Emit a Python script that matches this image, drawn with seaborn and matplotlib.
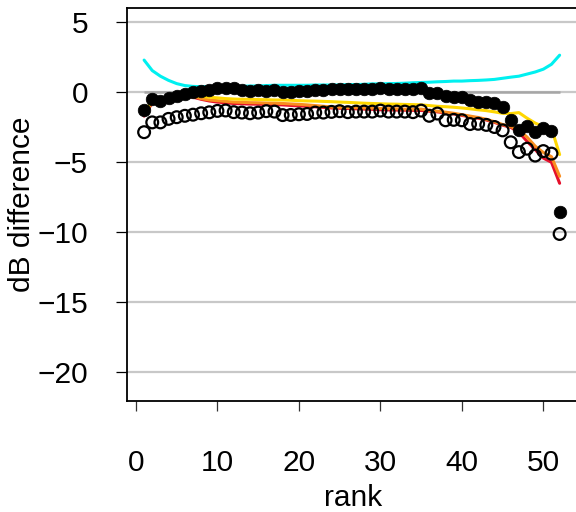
import numpy as np
import pandas as pd
import matplotlib
matplotlib.use("Agg")
import matplotlib.pyplot as plt
import seaborn as sns

rank = np.arange(1, 53)

filled = [-1.25, -0.5, -0.6, -0.43, -0.28, -0.1, 0.03, 0.1, 0.15, 0.28,
          0.33, 0.3, 0.15, 0.1, 0.15, 0.12, 0.15, 0.05, 0.05, 0.1,
          0.1, 0.15, 0.18, 0.22, 0.22, 0.22, 0.2, 0.22, 0.22, 0.33,
          0.25, 0.22, 0.2, 0.22, 0.28, -0.05, -0.05, -0.3, -0.33, -0.36,
          -0.58, -0.66, -0.7, -0.8, -1.08, -1.98, -2.7, -2.43, -2.84, -2.57,
          -2.75, -8.53]

open_pts = [-2.85, -2.15, -2.15, -1.9, -1.78, -1.68, -1.6, -1.5, -1.43, -1.33,
            -1.3, -1.42, -1.45, -1.5, -1.45, -1.35, -1.38, -1.63, -1.62, -1.57,
            -1.55, -1.45, -1.45, -1.4, -1.35, -1.42, -1.38, -1.38, -1.38, -1.31,
            -1.38, -1.38, -1.38, -1.42, -1.31, -1.68, -1.52, -2.0, -1.97, -2.0,
            -2.27, -2.25, -2.33, -2.48, -2.72, -3.57, -4.27, -4.03, -4.52, -4.2,
            -4.38, -10.12]

cyan = [2.3, 1.55, 1.15, 0.85, 0.62, 0.48, 0.42, 0.4, 0.4, 0.4,
        0.42, 0.42, 0.42, 0.45, 0.45, 0.48, 0.5, 0.5, 0.5, 0.5,
        0.5, 0.52, 0.52, 0.52, 0.52, 0.55, 0.55, 0.57, 0.6, 0.6,
        0.62, 0.63, 0.65, 0.68, 0.7, 0.72, 0.75, 0.77, 0.8, 0.8,
        0.83, 0.85, 0.88, 0.92, 1.0, 1.08, 1.15, 1.3, 1.45, 1.65,
        2.0, 2.65]

yellow = [-1.45, -0.6, -0.55, -0.45, -0.3, -0.15, -0.2, -0.3, -0.35, -0.4,
          -0.45, -0.48, -0.5, -0.5, -0.52, -0.53, -0.55, -0.55, -0.57, -0.6,
          -0.62, -0.63, -0.65, -0.67, -0.7, -0.72, -0.75, -0.78, -0.8, -0.82,
          -0.84, -0.85, -0.87, -0.88, -0.9, -0.95, -1.0, -1.03, -1.07, -1.12,
          -1.18, -1.25, -1.31, -1.4, -1.5, -1.52, -1.45, -1.85, -2.2, -2.45,
          -2.57, -4.45]

orange = [-1.6, -0.7, -0.65, -0.5, -0.35, -0.2, -0.3, -0.45, -0.55, -0.6,
          -0.65, -0.7, -0.72, -0.74, -0.75, -0.77, -0.78, -0.8, -0.83, -0.86,
          -0.9, -0.95, -1.0, -1.05, -1.07, -1.09, -1.1, -1.12, -1.13, -1.15,
          -1.17, -1.18, -1.2, -1.2, -1.2, -1.28, -1.35, -1.42, -1.5, -1.6,
          -1.7, -1.8, -1.93, -2.1, -2.3, -2.45, -2.69, -3.2, -3.85, -4.3,
          -4.6, -6.0]

red = [-1.7, -0.75, -0.7, -0.55, -0.4, -0.25, -0.35, -0.5, -0.62, -0.7,
       -0.75, -0.8, -0.82, -0.84, -0.85, -0.87, -0.88, -0.9, -0.94, -0.97,
       -1.0, -1.04, -1.08, -1.12, -1.14, -1.16, -1.18, -1.2, -1.22, -1.25,
       -1.26, -1.27, -1.28, -1.29, -1.3, -1.35, -1.4, -1.47, -1.55, -1.65,
       -1.75, -1.85, -1.98, -2.15, -2.35, -2.5, -2.85, -3.5, -4.1, -4.7,
       -5.0, -6.5]

line_series = {"red": red, "orange": orange, "yellow": yellow, "cyan": cyan}
line_colors = {"red": "#E5102B", "orange": "#F98E1F", "yellow": "#FFD700", "cyan": "#00F0F0"}

yticks = [5, 0, -5, -10, -15, -20]
xticks = [0, 10, 20, 30, 40, 50]

lines_df = pd.concat(
    [pd.DataFrame({"rank": rank, "value": v, "series": k}) for k, v in line_series.items()],
    ignore_index=True)
pts_df = pd.DataFrame({"rank": rank, "filled": filled, "open": open_pts})

sns.set_style("white")
plt.rcParams["font.family"] = ["Liberation Sans", "DejaVu Sans"]
plt.rcParams["text.color"] = "black"
plt.rcParams["axes.labelcolor"] = "black"
plt.rcParams["xtick.color"] = "black"
plt.rcParams["ytick.color"] = "black"

FS = 21.5

fig = plt.figure(figsize=(5.76, 5.12), dpi=100)
ax = fig.add_axes([127 / 576, 1 - 401 / 512, 453 / 576, 393 / 512])

for y in yticks:
    ax.axhline(y, color="#C8C8C8", lw=1.6, zorder=0)
ax.hlines(0, rank.min(), rank.max(), color="#A6A6A6", lw=1.8, zorder=0.5)

sns.lineplot(data=lines_df, x="rank", y="value", hue="series",
             palette=line_colors, hue_order=list(line_series.keys()),
             lw=2.2, legend=False, ax=ax, zorder=2)
sns.scatterplot(data=pts_df, x="rank", y="open", marker="o", s=72,
                facecolor="none", edgecolor="black", linewidth=1.6,
                legend=False, ax=ax, zorder=3)
sns.scatterplot(data=pts_df, x="rank", y="filled", marker="o", s=82,
                color="black", edgecolor="black", linewidth=0.5,
                legend=False, ax=ax, zorder=4)

ax.set_xlim(-1.1, 54.5)
ax.set_ylim(-22.05, 6.02)
ax.set_xticks(xticks)
ax.set_yticks(yticks)
ax.set_xticklabels([str(t) for t in xticks])
ax.set_yticklabels([str(t).replace("-", "\u2212") for t in yticks])

for s in ax.spines.values():
    s.set_color("black")
    s.set_linewidth(1.3)

ax.tick_params(axis="y", direction="out", length=8, width=0.9, colors="black",
               pad=20, labelsize=FS, left=True)
ax.tick_params(axis="x", direction="out", length=7, width=0.9, color="#333333",
               labelcolor="black", pad=27.5, labelsize=FS, bottom=True)

ax.set_xlabel("rank", fontsize=FS, color="black")
ax.set_ylabel("dB difference", fontsize=FS, color="black")
ax.xaxis.set_label_coords(0.5, -0.212)
ax.yaxis.set_label_coords(-0.201, 0.5)

fig.savefig("out.png", dpi=100)
